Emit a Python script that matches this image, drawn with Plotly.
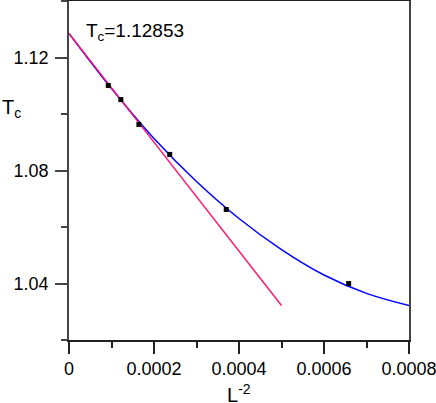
import plotly.graph_objects as go

# finite-size data: x = L^-2, y = Tc(L)
L_inv2 = [9.25e-5, 1.22e-4, 1.645e-4, 2.37e-4, 3.70e-4, 6.58e-4]
Tc_L = [1.1101, 1.1051, 1.0963, 1.0857, 1.0662, 1.0400]

# fitted curve
fit_x = [0, 0.0001, 0.0002, 0.0003, 0.0004, 0.0005, 0.0006, 0.0007, 0.0008]
fit_y = [1.1285, 1.1090, 1.0913, 1.0761, 1.0630, 1.0520, 1.0430, 1.0365, 1.0322]

# linear extrapolation
lin_x = [0, 0.0005]
lin_y = [1.12853, 1.0322]

FONT = "Liberation Sans, Arial, sans-serif"

fig = go.Figure()
fig.add_trace(go.Scatter(x=fit_x, y=fit_y, mode="lines", line=dict(color="#0000ff", width=1.5, shape="spline"), showlegend=False))
fig.add_trace(go.Scatter(x=lin_x, y=lin_y, mode="lines", line=dict(color="#ff1a6e", width=1.5), showlegend=False))
fig.add_trace(go.Scatter(x=L_inv2, y=Tc_L, mode="markers", marker=dict(symbol="square", size=5, color="black"), showlegend=False))

fig.update_xaxes(range=[0, 0.0008], tick0=0, dtick=0.0002, tickformat="~g", ticks="outside", ticklen=12, tickwidth=1.5,
                 tickcolor="#222", showline=True, linecolor="#222", linewidth=1.5, mirror=True, showgrid=False, zeroline=False,
                 minor=dict(dtick=0.0001, ticks="outside", ticklen=6, tickwidth=1.5, tickcolor="#222", showgrid=False),
                 tickfont=dict(size=18), ticklabeloverflow="allow", automargin=False)
fig.update_yaxes(range=[1.02, 1.14], tick0=1.0, dtick=0.04, tickformat=".2f", ticks="outside", ticklen=12, tickwidth=1.5,
                 tickcolor="#444", showline=True, linecolor="#444", linewidth=1.5, mirror=True, showgrid=False, zeroline=False,
                 minor=dict(dtick=0.02, ticks="outside", ticklen=6, tickwidth=1.5, tickcolor="#444", showgrid=False),
                 tickfont=dict(size=18), ticklabelstandoff=3, automargin=False)

fig.add_annotation(text="T<sub>c</sub>=1.12853", x=3.6e-5, y=1.1292, xanchor="left", yanchor="middle",
                   showarrow=False, font=dict(size=19))
# axis titles
fig.add_annotation(text="T<sub>c</sub>", xref="paper", x=-0.203, y=1.102, xanchor="left", yanchor="middle",
                   showarrow=False, font=dict(size=20))
fig.add_annotation(text="L<sup>-2</sup>", xref="paper", yref="paper", x=0.5, y=-0.159, xanchor="center", yanchor="middle",
                   showarrow=False, font=dict(size=20))

fig.update_layout(width=436, height=403, margin=dict(l=69, r=27, t=1, b=63),
                  plot_bgcolor="white", paper_bgcolor="white",
                  font=dict(family=FONT, size=18, color="black"))

fig.write_html("out.html", config={"displayModeBar": False},
               post_script="document.body.style.margin='0';")
